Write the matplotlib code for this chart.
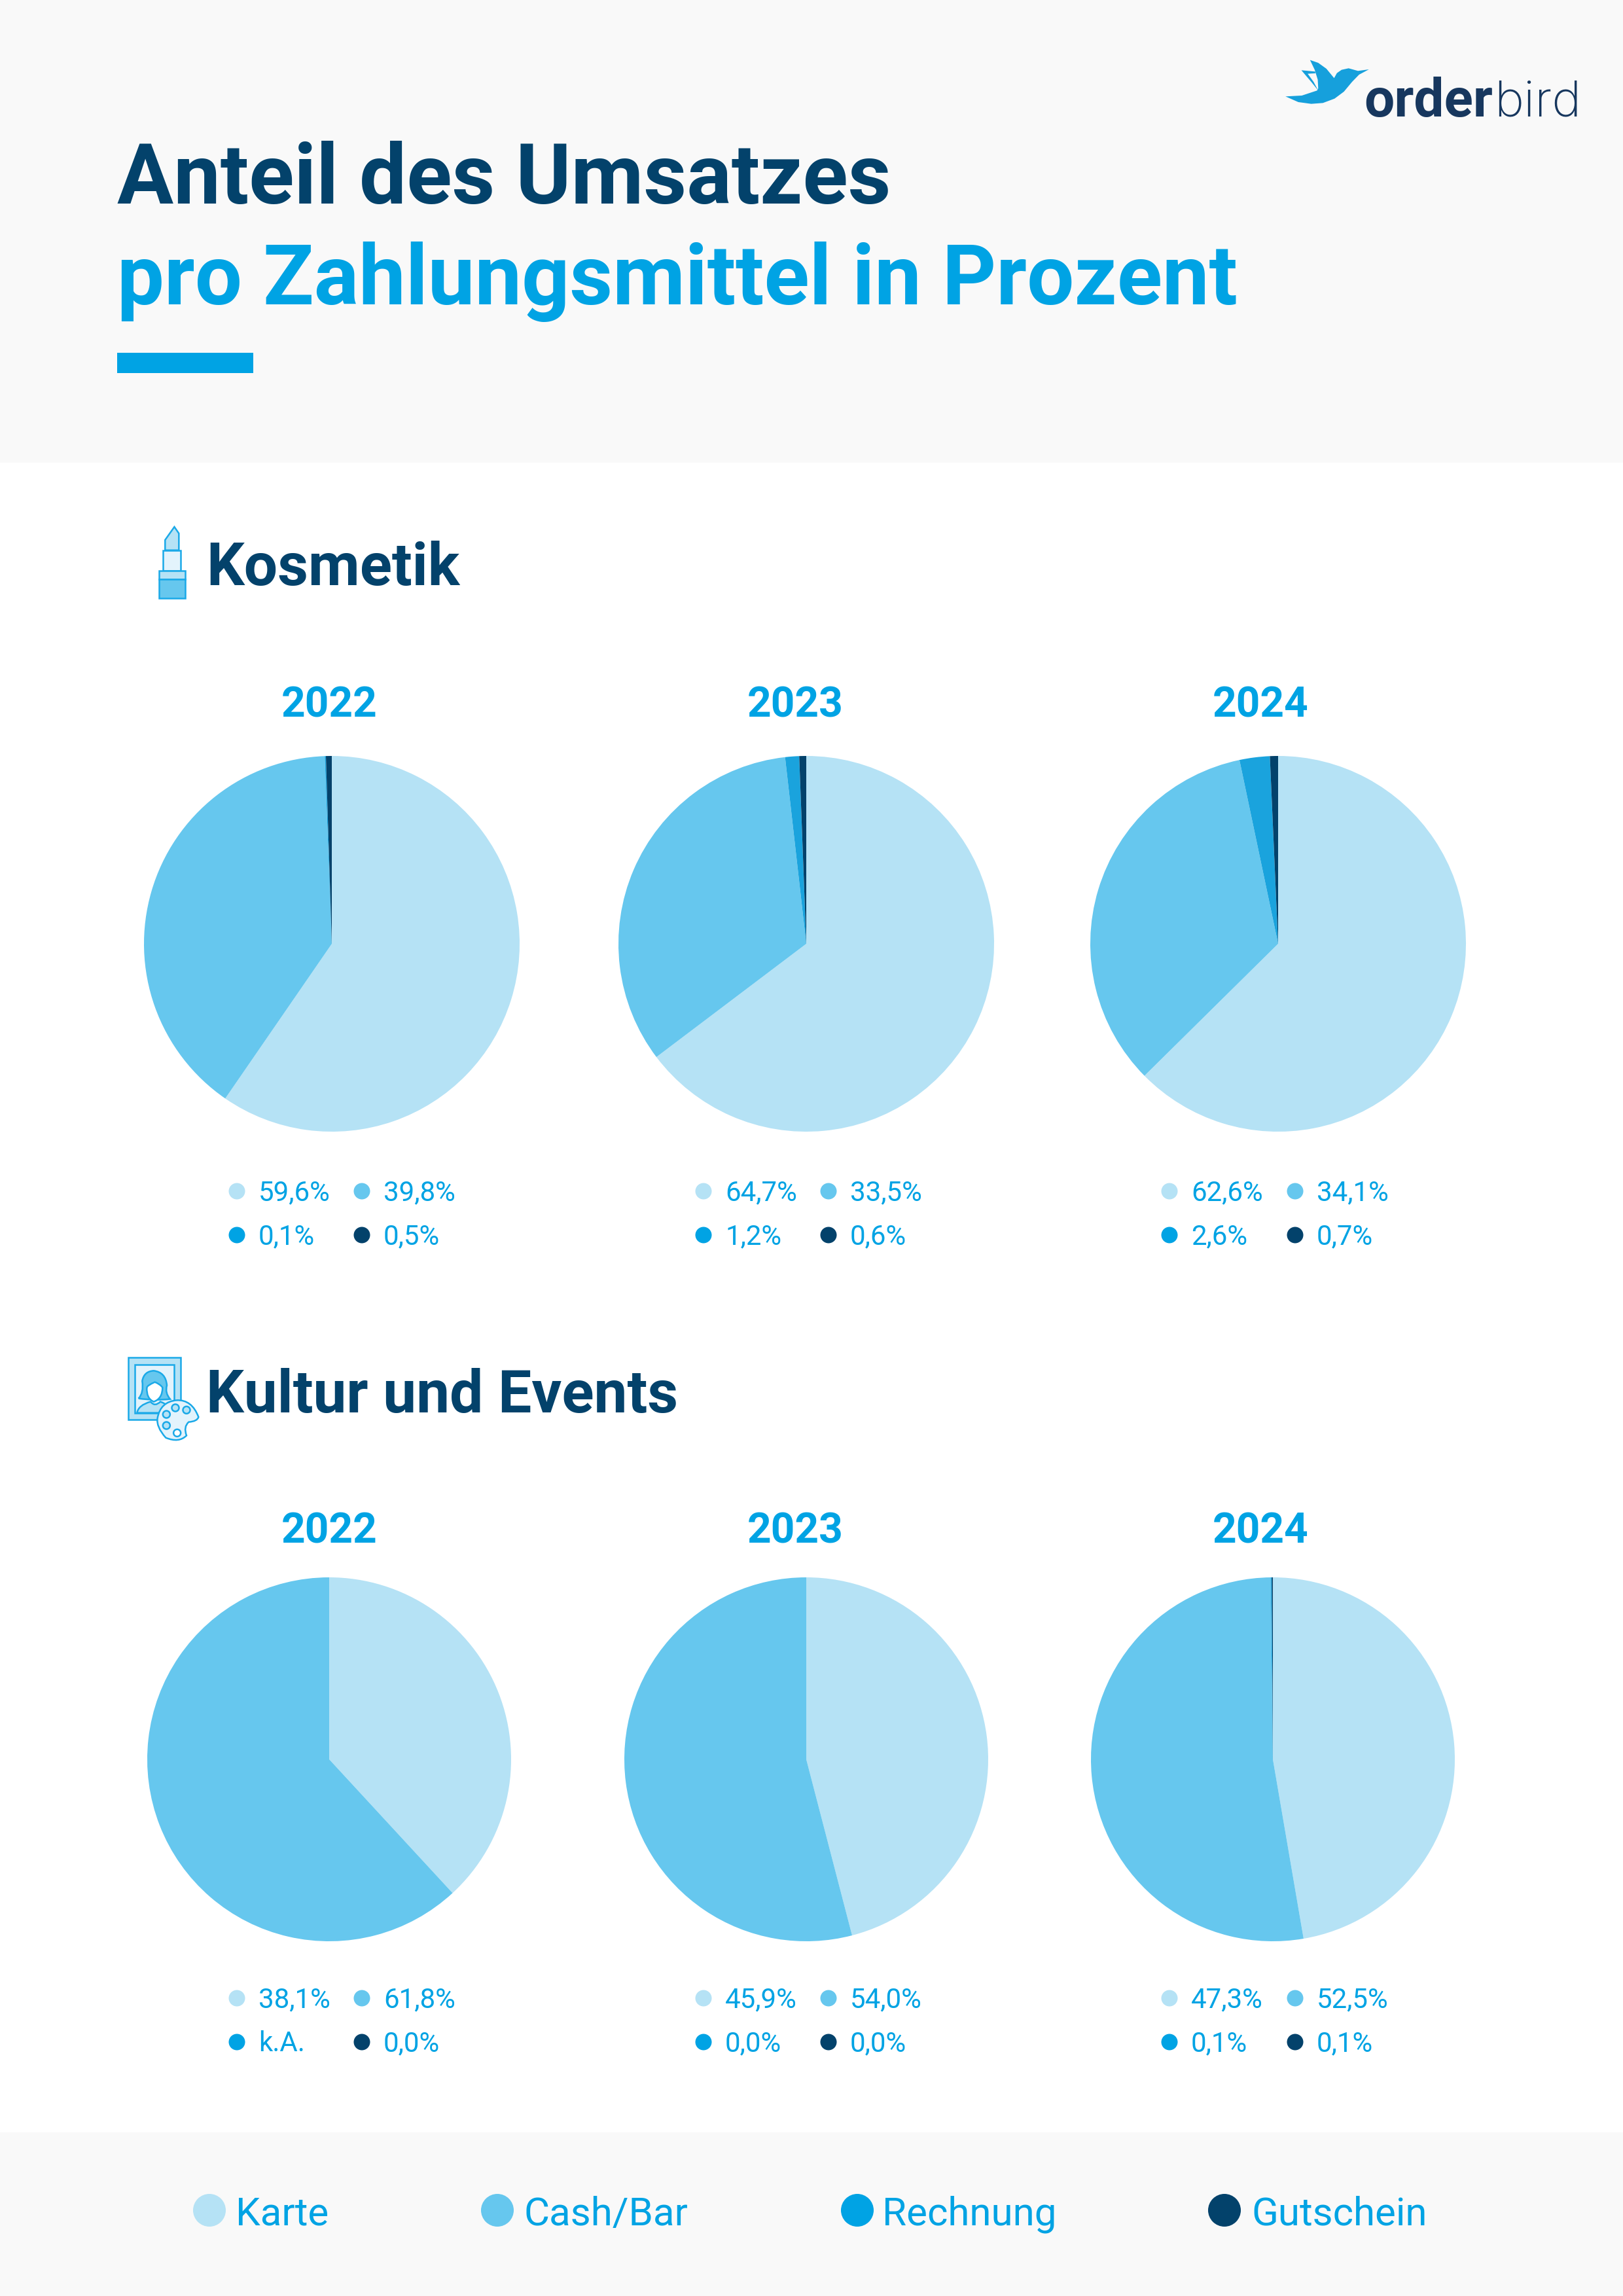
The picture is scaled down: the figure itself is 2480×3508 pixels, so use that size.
import matplotlib
matplotlib.use('Agg')
import matplotlib.pyplot as plt
from matplotlib.patches import Rectangle, Circle, Polygon, PathPatch
from matplotlib.path import Path

# data
years = ['2022', '2023', '2024']
categories = ['Karte', 'Cash/Bar', 'Rechnung', 'Gutschein']
kosmetik = [[59.6, 39.8, 0.1, 0.5],
            [64.7, 33.5, 1.2, 0.6],
            [62.6, 34.1, 2.6, 0.7]]
kultur = [[38.1, 61.8, None, 0.0],
          [45.9, 54.0, 0.0, 0.0],
          [47.3, 52.5, 0.1, 0.1]]

LIGHT = '#b5e2f5'
MID = '#66c7ee'
BLUE = '#00a3e4'
DARK = '#03426b'
LINE = '#1aa9e8'
GREY = '#f9f9f9'
colors = [LIGHT, MID, '#1aa3dd', DARK]
dots = [LIGHT, MID, BLUE, DARK]

W, H = 2480, 3508
plt.rcParams['font.family'] = ['Roboto', 'Liberation Sans', 'DejaVu Sans']
fig = plt.figure(figsize=(W / 100, H / 100), dpi=100, facecolor='white')

# whole page in pixels, y going down
bg = fig.add_axes([0, 0, 1, 1])
bg.set_xlim(0, W)
bg.set_ylim(H, 0)
bg.axis('off')


def pt(px):
    return px * 0.72


bg.add_patch(Rectangle((0, 0), W, 707, fc=GREY, ec='none'))
bg.add_patch(Rectangle((0, 3258), W, 250, fc=GREY, ec='none'))
bg.add_patch(Rectangle((179, 539), 208, 31, fc=BLUE, ec='none'))

bg.text(179, 311, 'Anteil des Umsatzes', fontsize=pt(128), fontweight='bold', color=DARK, va='baseline')
bg.text(179, 465, 'pro Zahlungsmittel in Prozent', fontsize=pt(128), fontweight='bold', color=BLUE, va='baseline')

bg.text(315, 894, 'Kosmetik', fontsize=pt(91), fontweight='bold', color=DARK, va='baseline')
bg.text(315, 2158, 'Kultur und Events', fontsize=pt(91), fontweight='bold', color=DARK, va='baseline')


# logo
def logo_xy(pts):
    return [(1900 + x / 2.8, 50 + y / 3) for x, y in pts]


body = [(180, 292), (250, 288), (315, 265), (320, 255), (318, 215), (305, 170), (285, 125),
        (320, 138), (355, 165), (388, 208), (400, 185), (420, 170), (450, 163), (490, 175),
        (537, 168), (495, 192), (465, 225), (430, 270), (390, 302), (340, 322), (290, 326), (235, 318)]
wing = [(248, 172), (307, 178), (308, 186), (275, 188), (300, 225), (320, 265), (290, 225), (270, 200)]
bg.add_patch(Polygon(logo_xy(body), fc='#16a0dc', ec='none'))
bg.add_patch(Polygon(logo_xy(wing), fc='#16a0dc', ec='none'))
bg.text(2084, 178, 'order', fontsize=pt(82), fontweight='bold', color='#17375e', va='baseline')
bg.text(2283, 178, 'bird', fontsize=pt(76), family='Inter', fontweight='light', color='#17375e', va='baseline')


# lipstick icon
def lip(x, y):
    return 170 + x / 2.613, 780 + y / 3


lw = 1.8
tip = [lip(215, 182), lip(215, 135), lip(252, 75), lip(270, 105), lip(270, 182)]
bg.add_patch(Polygon(tip, fc=LIGHT, ec=LINE, lw=lw))
x0, y0 = lip(207, 182)
x1, y1 = lip(278, 275)
bg.add_patch(Rectangle((x0, y0), x1 - x0, y1 - y0, fc='#e3f3fc', ec=LINE, lw=lw))
x0, y0 = lip(191, 275)
x1, y1 = lip(294, 315)
bg.add_patch(Rectangle((x0, y0), x1 - x0, y1 - y0, fc=LIGHT, ec=LINE, lw=lw))
y2 = lip(0, 403)[1]
bg.add_patch(Rectangle((x0, y1), x1 - x0, y2 - y1, fc=MID, ec=LINE, lw=lw))


# picture and palette icon
def art(x, y):
    return 170 + x / 3, 2040 + y / 3


def smooth(points, **kw):
    verts = [art(*points[0])]
    codes = [Path.MOVETO]
    for i in range(1, len(points), 2):
        verts += [art(*points[i]), art(*points[i + 1])]
        codes += [Path.CURVE3, Path.CURVE3]
    return PathPatch(Path(verts, codes), **kw)


x0, y0 = art(77, 102)
x1, y1 = art(317, 388)
bg.add_patch(Rectangle((x0, y0), x1 - x0, y1 - y0, fc=LIGHT, ec=LINE, lw=lw))
x0, y0 = art(108, 134)
x1, y1 = art(287, 358)
bg.add_patch(Rectangle((x0, y0), x1 - x0, y1 - y0, fc='#e3f3fc', ec=LINE, lw=lw))
bg.add_patch(smooth([(118, 356), (125, 320), (180, 305), (200, 330), (225, 305), (270, 320), (280, 356), (200, 356), (118, 356)],
                    fc=LIGHT, ec=LINE, lw=lw))
bg.add_patch(smooth([(125, 290), (150, 265), (142, 210), (150, 165), (195, 163), (250, 170), (255, 230), (245, 265), (270, 293),
                     (195, 300), (125, 290)], fc=MID, ec=LINE, lw=lw))
bg.add_patch(smooth([(163, 240), (165, 230), (200, 215), (225, 225), (235, 240), (235, 290), (195, 305), (160, 290), (163, 240)],
                    fc='white', ec=LINE, lw=lw))
bg.add_patch(smooth([(300, 298), (370, 295), (400, 375), (395, 395), (355, 398), (330, 420), (345, 460), (310, 495), (250, 470),
                     (205, 420), (212, 380), (225, 305), (300, 298)], fc='#e3f3fc', ec=LINE, lw=lw))
for cx, cy, fc in [(253, 363, LIGHT), (294, 333, LIGHT), (345, 343, LIGHT), (253, 414, LIGHT), (302, 448, 'white')]:
    bg.add_patch(Circle(art(cx, cy), 5.5, fc=fc, ec=LINE, lw=lw))

# footer legend
footer_dot_x = [320, 760, 1310, 1871]
footer_text_x = [360, 800, 1348, 1912]
for name, c, dx, tx in zip(categories, dots, footer_dot_x, footer_text_x):
    bg.add_patch(Circle((dx, 3377), 25, fc=c, ec='none'))
    bg.text(tx, 3377, name, fontsize=pt(60), color=BLUE, va='center_baseline')


def label(v):
    if v is None:
        return 'k.A.'
    return f'{v:.1f}'.replace('.', ',') + '%'


def section(rows, centers, cy, r, year_y, legend_y):
    for i, vals in enumerate(rows):
        cx = centers[i]
        ax = fig.add_axes([(cx - r) / W, 1 - (cy + r) / H, 2 * r / W, 2 * r / H])
        ax.pie([v or 0 for v in vals], colors=colors, startangle=90, counterclock=False, radius=1)
        ax.set_xlim(-1, 1)
        ax.set_ylim(-1, 1)
        bg.text(year_x[i], year_y, years[i], fontsize=pt(64), fontweight='bold', color=BLUE, ha='center', va='center_baseline')
        for j, v in enumerate(vals):
            dx = legend_x[i][j % 2]
            dy = legend_y[j // 2]
            bg.add_patch(Circle((dx, dy), 12.5, fc=dots[j], ec='none'))
            bg.text(dx + 33, dy + 14, label(v), fontsize=pt(42), color=BLUE, va='baseline')


year_x = [503, 1215, 1926]
legend_x = [(362, 553), (1075, 1266), (1787, 1979)]
section(kosmetik, [507, 1232, 1953], 1442, 287, 1071, (1820, 1887))
section(kultur, [503, 1232, 1945], 2688, 278, 2334, (3053, 3120))

fig.savefig('out.png', dpi=100)
